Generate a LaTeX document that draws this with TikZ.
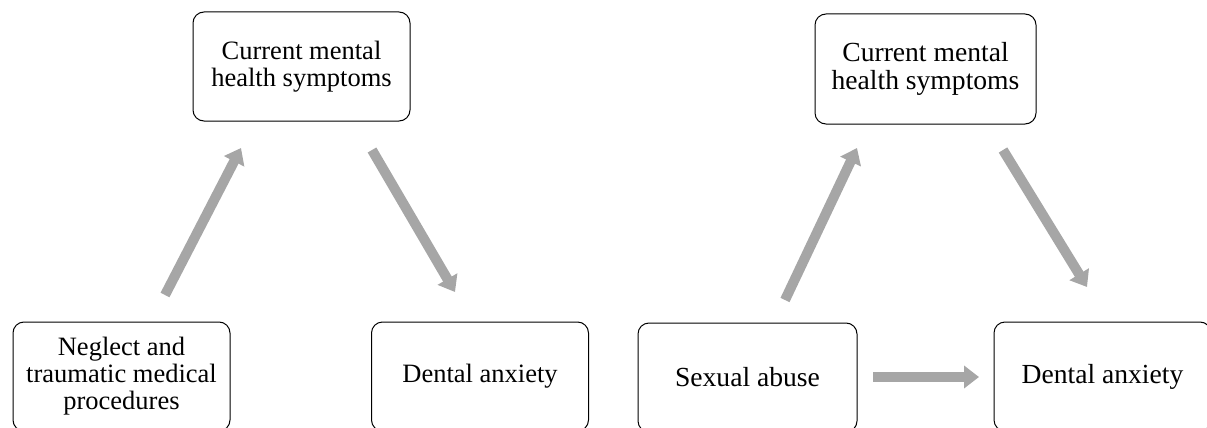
\documentclass[tikz,border=0pt]{standalone}
\usepackage{fontspec}
\setmainfont{Liberation Serif}
\usetikzlibrary{arrows.meta}
\definecolor{arrowgray}{HTML}{A6A6A6}
\tikzset{
  x=1pt, y=-1pt,
  box/.style={draw=black, line width=1pt, rounded corners=11pt, fill=white,
    minimum width=217pt, minimum height=109pt, align=center, inner sep=0pt,
    font=\fontsize{26.5}{27}\selectfont},
  bigtext/.style={font=\fontsize{27.6}{27.5}\selectfont},
  flow/.style={draw=arrowgray, line width=10pt,
    -{Triangle[length=15pt,width=22pt]}},
}
\begin{document}
\begin{tikzpicture}
\useasboundingbox (0,0) rectangle (1207,428);
\clip (0,0) rectangle (1207,428);

% left panel
\node[box] (lmh) at (301.5,66.5) {Current mental\\health symptoms};
\node[box] (neg) at (121.5,376.5) {Neglect and\\traumatic medical\\procedures};
\node[box] (lda) at (480,376.5) {Dental anxiety};

\coordinate (lupS) at (165,295);
\coordinate (lupE) at (241,148);
\coordinate (ldnS) at (372,150);
\coordinate (ldnE) at (455,292);
\draw[flow] (lupS) -- (lupE);
\draw[flow] (ldnS) -- (ldnE);

% right panel
\node[box, bigtext, minimum width=221pt, minimum height=110pt] (rmh) at (925.5,69) {Current mental\\health symptoms};
\node[box, bigtext, minimum width=219pt] (sab) at (747.5,377.5) {Sexual abuse};
\node[box, bigtext] (rda) at (1102.5,376.5) {Dental anxiety};

\coordinate (rupS) at (785,300);
\coordinate (rupE) at (857,148);
\coordinate (rdnS) at (1003,150);
\coordinate (rdnE) at (1087,287);
\coordinate (hS) at (873,377);
\coordinate (hE) at (979,377);
\draw[flow] (rupS) -- (rupE);
\draw[flow] (rdnS) -- (rdnE);
\draw[flow] (hS) -- (hE);
\end{tikzpicture}
\end{document}
